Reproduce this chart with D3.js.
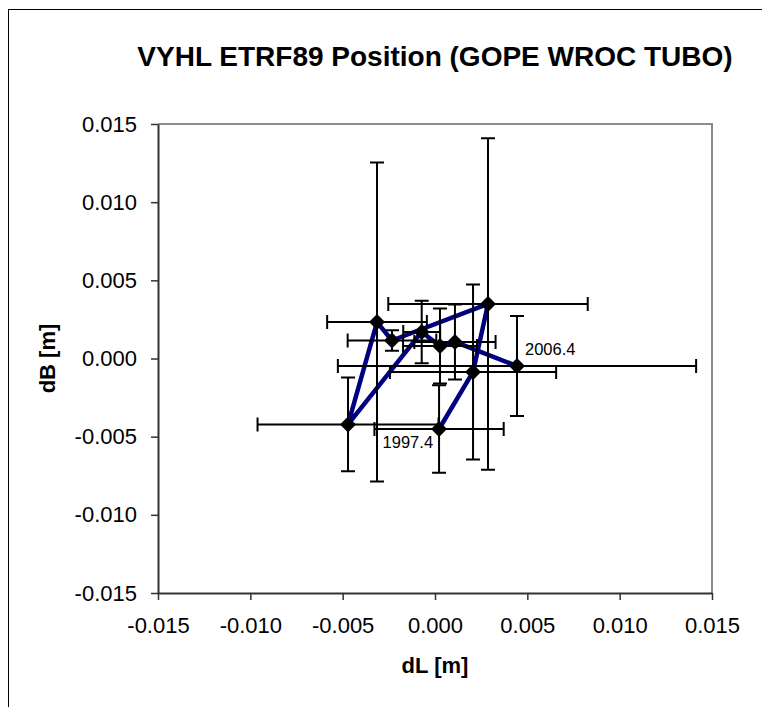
<!DOCTYPE html>
<html>
<head>
<meta charset="utf-8">
<script src="https://cdn.jsdelivr.net/npm/d3@7"></script>
<style>
body { margin: 0; background: #fff; }
text { font-family: Arial, "Liberation Sans", sans-serif; }
</style>
</head>
<body>
<div id="chart"></div>
<script>
// epochs in time order, only first and last are labelled
var epochs = ['1997.4', '', '', '', '', '', '', '', '', '2006.4'];
var dL = [0.00022, 0.00206, 0.00287, -0.00233, -0.00314, -0.00471, -0.00072, 0.00027, 0.00108, 0.00444];
var dB = [-0.00451, -0.00086, 0.00349, 0.00115, 0.00233, -0.00422, 0.00170, 0.00080, 0.00106, -0.00048];
var errL = [0.0035, 0.0045, 0.0054, 0.0024, 0.0027, 0.0049, 0.0010, 0.0020, 0.0022, 0.0097];
var errB = [0.0028, 0.0056, 0.0106, 0.00065, 0.0102, 0.0030, 0.0020, 0.0024, 0.0024, 0.0032];
var xTicks = [-0.015, -0.010, -0.005, 0.000, 0.005, 0.010, 0.015];
var yTicks = [-0.015, -0.010, -0.005, 0.000, 0.005, 0.010, 0.015];

var width = 762, height = 707;
var plot = {left: 158, top: 124, right: 712, bottom: 593};
var capw = 7;

var fmt = d3.formatLocale({decimal: '.', thousands: ',', grouping: [3], currency: ['', ''], minus: '-'}).format('.3f');

var points = epochs.map(function(e, i) {
	return {epoch: e, x: dL[i], y: dB[i], ex: errL[i], ey: errB[i]};
});

var svg = d3.select('#chart').append('svg')
	.attr('width', width)
	.attr('height', height);

// outer chart frame
svg.append('rect')
	.attr('x', 8.5).attr('y', 9.5)
	.attr('width', 800).attr('height', 800)
	.attr('fill', '#fff')
	.attr('stroke', '#000')
	.attr('stroke-width', 1);

var x = d3.scaleLinear().domain([-0.015, 0.015]).range([plot.left, plot.right]);
var y = d3.scaleLinear().domain([-0.015, 0.015]).range([plot.bottom, plot.top]);

// plot area border (top/right grey)
svg.append('path')
	.attr('d', 'M' + plot.left + ',' + plot.top + 'H' + plot.right + 'V' + plot.bottom)
	.attr('fill', 'none')
	.attr('stroke', '#8c8c8c')
	.attr('stroke-width', 2);

// axes
var xAxis = svg.append('g')
	.attr('transform', 'translate(0,' + plot.bottom + ')')
	.call(d3.axisBottom(x).tickValues(xTicks).tickFormat(fmt).tickSize(7).tickSizeOuter(0).tickPadding(17));
var yAxis = svg.append('g')
	.attr('transform', 'translate(' + plot.left + ',0)')
	.call(d3.axisLeft(y).tickValues(yTicks).tickFormat(fmt).tickSize(7).tickSizeOuter(0).tickPadding(14));

[xAxis, yAxis].forEach(function(a) {
	a.select('.domain').attr('stroke', '#333').attr('stroke-width', 2);
	a.selectAll('.tick line').attr('stroke', '#333').attr('stroke-width', 1.5);
	a.selectAll('.tick text')
		.attr('fill', '#000')
		.style('font-size', '22px')
		.style('font-family', 'Arial, "Liberation Sans", sans-serif');
});

// series line
var line = d3.line()
	.x(function(d) { return x(d.x); })
	.y(function(d) { return y(d.y); });

svg.append('path')
	.datum(points)
	.attr('d', line)
	.attr('fill', 'none')
	.attr('stroke', '#000080')
	.attr('stroke-width', 4.5)
	.attr('stroke-linejoin', 'round');

// error bars
var bars = svg.append('g')
	.attr('stroke', '#000')
	.attr('stroke-width', 2)
	.attr('fill', 'none');

bars.selectAll('.ebx')
	.data(points)
	.enter().append('path')
	.attr('class', 'ebx')
	.attr('d', function(d) {
		var x0 = x(d.x - d.ex), x1 = x(d.x + d.ex), py = y(d.y);
		return 'M' + x0 + ',' + py + 'H' + x1 +
			'M' + x0 + ',' + (py - capw) + 'V' + (py + capw) +
			'M' + x1 + ',' + (py - capw) + 'V' + (py + capw);
	});

bars.selectAll('.eby')
	.data(points)
	.enter().append('path')
	.attr('class', 'eby')
	.attr('d', function(d) {
		var y0 = y(d.y - d.ey), y1 = y(d.y + d.ey), px = x(d.x);
		return 'M' + px + ',' + y0 + 'V' + y1 +
			'M' + (px - capw) + ',' + y0 + 'H' + (px + capw) +
			'M' + (px - capw) + ',' + y1 + 'H' + (px + capw);
	});

// diamond markers
svg.selectAll('.marker')
	.data(points)
	.enter().append('path')
	.attr('class', 'marker')
	.attr('transform', function(d) { return 'translate(' + x(d.x) + ',' + y(d.y) + ')'; })
	.attr('d', 'M0,-8L8,0L0,8L-8,0Z')
	.attr('fill', '#000');

// epoch labels
svg.selectAll('.elabel')
	.data(points.filter(function(d) { return d.epoch !== ''; }))
	.enter().append('text')
	.attr('class', 'elabel')
	.attr('x', function(d, i) { return x(d.x) + (i === 0 ? -6 : 8); })
	.attr('y', function(d, i) { return y(d.y) + (i === 0 ? 19 : -11); })
	.attr('text-anchor', function(d, i) { return i === 0 ? 'end' : 'start'; })
	.style('font-size', '16.5px')
	.text(function(d) { return d.epoch; });

// titles
svg.append('text')
	.attr('x', (plot.left + plot.right) / 2)
	.attr('y', 66)
	.attr('text-anchor', 'middle')
	.style('font-size', '28px')
	.style('font-weight', 'bold')
	.text('VYHL ETRF89 Position (GOPE WROC TUBO)');

svg.append('text')
	.attr('x', (plot.left + plot.right) / 2)
	.attr('y', 673)
	.attr('text-anchor', 'middle')
	.style('font-size', '22px')
	.style('font-weight', 'bold')
	.text('dL [m]');

svg.append('text')
	.attr('transform', 'translate(55,' + (plot.top + plot.bottom) / 2 + ') rotate(-90)')
	.attr('text-anchor', 'middle')
	.style('font-size', '22px')
	.style('font-weight', 'bold')
	.text('dB [m]');
</script>
</body>
</html>
